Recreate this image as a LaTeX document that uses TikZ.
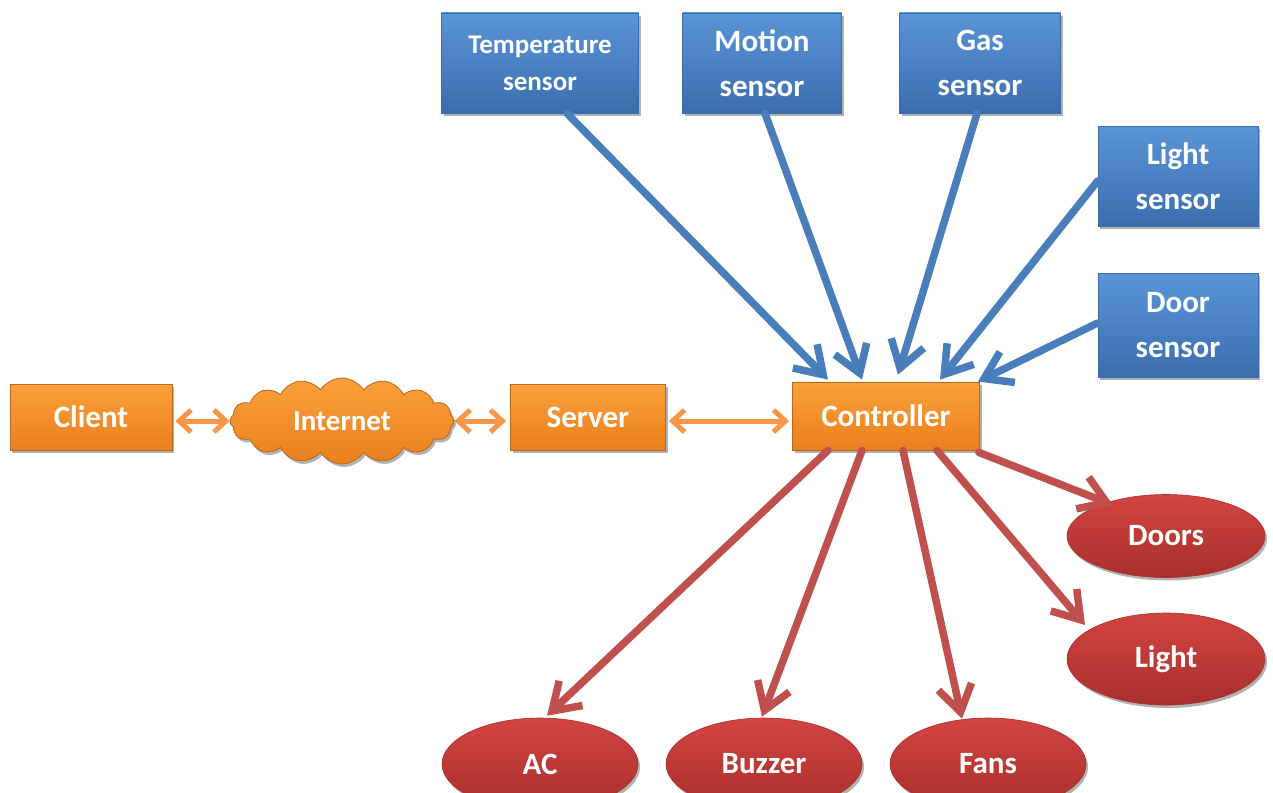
\documentclass[tikz,border=0pt]{standalone}
\usepackage{fontspec}
\setmainfont{Carlito}
\usetikzlibrary{arrows.meta,shapes.symbols,shapes.geometric,shadows}
\definecolor{sblue}{HTML}{4A7EBB}
\definecolor{sbluetop}{HTML}{5A95D6}
\definecolor{sbluebot}{HTML}{3A6DAE}
\definecolor{sorange}{HTML}{F79646}
\definecolor{sorangetop}{HTML}{FBA03A}
\definecolor{sorangebot}{HTML}{E9801E}
\definecolor{sred}{HTML}{C0504D}
\definecolor{sredtop}{HTML}{D24440}
\definecolor{sredbot}{HTML}{A82F2D}
\tikzset{
  base/.style={inner sep=0pt, align=center, text=white, font=\bfseries\fontsize{31}{45}\selectfont,
    drop shadow={shadow xshift=2pt, shadow yshift=-3pt, fill=black, opacity=0.3}},
  sensor/.style={base, rectangle, draw=sbluebot, line width=0.8pt,
    top color=sbluetop, bottom color=sbluebot, minimum width=160pt, minimum height=100pt},
  hub/.style={base, rectangle, draw=sorangebot!80!black, line width=0.8pt,
    top color=sorangetop, bottom color=sorangebot, minimum height=66pt},
  device/.style={base, ellipse, draw=sredbot, line width=0.6pt,
    top color=sredtop, bottom color=sredbot, minimum width=198pt},
  inlink/.style={draw=sblue, line width=7.5pt, line cap=round,
    -{Straight Barb[length=26pt,width=34pt]}},
  outlink/.style={draw=sred, line width=7.5pt, line cap=round,
    -{Straight Barb[length=26pt,width=34pt]}},
  netlink/.style={draw=sorange, line width=5pt,
    {Straight Barb[length=12pt,width=22pt]}-{Straight Barb[length=12pt,width=22pt]}}
}
\begin{document}
\begin{tikzpicture}[x=1pt,y=-1pt]
\useasboundingbox (0,0) rectangle (1273,792);

% sensors
\node[sensor, minimum width=197pt, font=\bfseries\fontsize{27}{37}\selectfont] (temp) at (540,63) {Temperature\\sensor};
\node[sensor, minimum width=159pt] (motion) at (762,63) {Motion\\sensor};
\node[sensor, minimum width=161pt] (gas) at (980,63) {Gas\\sensor};
\node[sensor] (lsens) at (1178,176) {Light\\sensor};
\node[sensor, minimum height=104pt] (dsens) at (1178,325) {Door\\sensor};

% network chain
\node[hub, minimum width=162pt] (client) at (91,417) {Client};
\node[base, cloud, cloud puffs=16, cloud puff arc=115, aspect=2.7,
  draw=sorangebot!80!black, line width=0.8pt, top color=sorangetop, bottom color=sorangebot,
  minimum width=224pt, minimum height=86pt, font=\bfseries\fontsize{29}{35}\selectfont] (net) at (342,421) {Internet};
\node[hub, minimum width=155pt] (server) at (588,417) {Server};
\node[hub, minimum width=187pt, minimum height=68pt] (ctrl) at (886,416) {Controller};

% actuators
\node[device, minimum height=83pt] (doors) at (1166,536) {Doors};
\node[device, minimum height=92pt] (light) at (1166,659) {Light};
\node[device, minimum width=196pt, minimum height=92pt] (ac) at (540,764) {AC};
\node[device, minimum width=196pt, minimum height=92pt] (buzzer) at (764,764) {Buzzer};
\node[device, minimum width=196pt, minimum height=92pt] (fans) at (988,764) {Fans};

% sensor inputs
\draw[inlink] ([xshift=27pt]temp.south) -- ([xshift=-58pt,yshift=2pt]ctrl.north);
\draw[inlink] ([xshift=3pt]motion.south) -- ([xshift=-24pt,yshift=2pt]ctrl.north);
\draw[inlink] ([xshift=-3pt]gas.south) -- ([xshift=12pt,yshift=7pt]ctrl.north);
\draw[inlink] ([yshift=-5pt]lsens.west) -- ([xshift=54pt,yshift=2pt]ctrl.north);
\draw[inlink] ([yshift=2pt]dsens.west) -- ([xshift=-2pt,yshift=0pt]ctrl.north east);

% network links
\draw[netlink] ([xshift=3pt,yshift=-4pt]client.east) -- ([yshift=-4pt]client.east -| net.west);
\draw[netlink] ([yshift=-4pt]server.west -| net.east) -- ([xshift=-4pt,yshift=-4pt]server.west);
\draw[netlink] ([xshift=3pt,yshift=-4pt]server.east) -- ([xshift=-3pt,yshift=-4pt]server.east -| ctrl.west);

% controller outputs
\draw[outlink] ([xshift=-58pt]ctrl.south) -- ([xshift=7pt,yshift=2pt]ac.north);
\draw[outlink] ([xshift=-24pt]ctrl.south) -- ([xshift=-2pt,yshift=1pt]buzzer.north);
\draw[outlink] ([xshift=17pt]ctrl.south) -- ([xshift=-26pt,yshift=-1pt]fans.north);
\draw[outlink] ([xshift=51pt]ctrl.south) -- ([xshift=-81pt,yshift=34pt]light.center);
\draw[outlink] ([xshift=-1pt,yshift=-2pt]ctrl.south east) -- ([xshift=-53pt,yshift=31pt]doors.center);
\end{tikzpicture}
\end{document}
